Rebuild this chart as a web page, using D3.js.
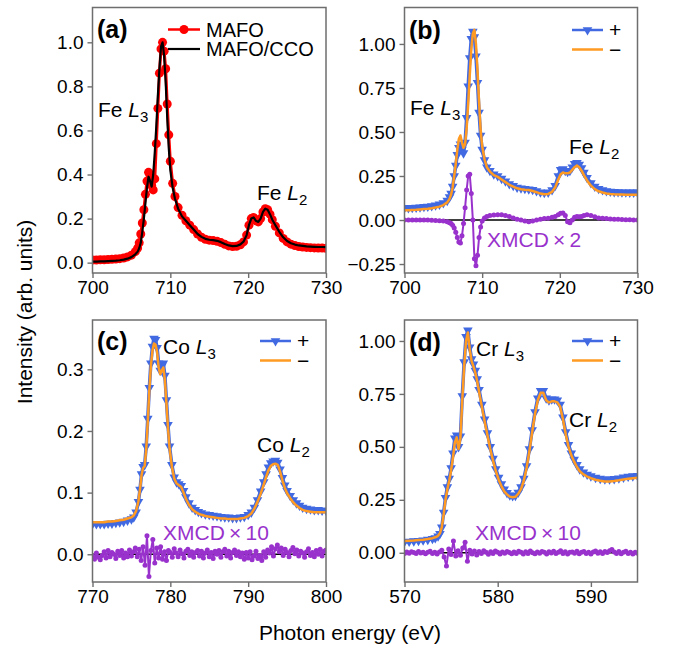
<!DOCTYPE html>
<html>
<head>
<meta charset="utf-8">
<script src="https://cdn.jsdelivr.net/npm/d3@7"></script>
<style>
  body { margin: 0; background: #fff; }
  svg { font-family: "Liberation Sans", Arial, sans-serif; }
</style>
</head>
<body>
<svg id="chart" width="673" height="647"></svg>
<script>
// ---------- data ----------

// Fe L-edge energies, panels (a) and (b)
const feE = [
  700,700.5,701,701.5,702,702.5,703,703.5,704,704.5,
  705,705.5,705.8,706,706.2,706.4,706.6,706.8,707,707.2,
  707.4,707.6,707.8,708,708.2,708.4,708.6,708.8,709,709.2,
  709.4,709.6,709.8,710,710.3,710.6,711,711.5,712,712.5,
  713,713.5,714,714.5,715,715.5,716,716.5,717,717.5,
  718,718.5,719,719.4,719.8,720.1,720.4,720.7,721,721.3,
  721.6,721.9,722.2,722.5,722.8,723.1,723.5,724,724.5,725,
  725.5,726,726.5,727,727.5,728,728.5,729,729.5,730
];
const mafo = [
  0.012,0.012,0.013,0.013,0.014,0.015,0.016,0.018,0.021,0.026,
  0.034,0.05,0.066,0.09,0.13,0.18,0.24,0.31,0.37,0.41,
  0.40,0.35,0.33,0.38,0.54,0.70,0.86,0.97,1.00,0.96,
  0.88,0.72,0.58,0.46,0.36,0.30,0.25,0.215,0.19,0.17,
  0.15,0.13,0.115,0.106,0.102,0.10,0.097,0.091,0.083,0.076,
  0.073,0.074,0.081,0.094,0.125,0.17,0.20,0.205,0.19,0.185,
  0.20,0.23,0.245,0.24,0.22,0.195,0.165,0.135,0.11,0.094,
  0.084,0.078,0.073,0.071,0.069,0.068,0.067,0.066,0.066,0.065
];
const mafoCco = [
  0.005,0.005,0.006,0.006,0.007,0.008,0.009,0.011,0.014,0.018,
  0.025,0.038,0.05,0.065,0.09,0.14,0.20,0.27,0.34,0.39,
  0.37,0.345,0.40,0.50,0.62,0.76,0.88,0.98,1.00,0.94,
  0.82,0.66,0.52,0.42,0.34,0.29,0.245,0.21,0.19,0.17,
  0.15,0.13,0.117,0.108,0.104,0.102,0.099,0.093,0.085,0.078,
  0.075,0.076,0.083,0.095,0.125,0.17,0.20,0.205,0.19,0.185,
  0.20,0.23,0.245,0.24,0.22,0.195,0.17,0.14,0.115,0.098,
  0.088,0.082,0.078,0.076,0.074,0.073,0.072,0.071,0.071,0.070
];
const fePlus = [
  0.068,0.069,0.070,0.071,0.073,0.075,0.077,0.080,0.084,0.089,
  0.097,0.11,0.13,0.15,0.19,0.25,0.31,0.37,0.41,0.43,
  0.40,0.38,0.44,0.58,0.76,0.92,1.03,1.07,1.04,0.93,
  0.78,0.61,0.48,0.40,0.34,0.30,0.28,0.26,0.25,0.235,
  0.22,0.205,0.195,0.185,0.18,0.178,0.175,0.172,0.165,0.158,
  0.155,0.157,0.17,0.195,0.25,0.285,0.29,0.28,0.275,0.28,
  0.30,0.32,0.325,0.315,0.295,0.27,0.24,0.21,0.19,0.178,
  0.17,0.165,0.162,0.16,0.159,0.158,0.158,0.157,0.157,0.157
];
const feMinus = [
  0.055,0.056,0.057,0.058,0.060,0.062,0.064,0.067,0.071,0.076,
  0.085,0.10,0.12,0.145,0.185,0.25,0.32,0.40,0.46,0.48,
  0.44,0.41,0.43,0.52,0.66,0.82,0.97,1.06,1.08,1.00,
  0.85,0.67,0.51,0.42,0.345,0.30,0.275,0.255,0.245,0.23,
  0.215,0.20,0.19,0.18,0.175,0.172,0.17,0.165,0.158,0.150,
  0.146,0.148,0.16,0.185,0.23,0.26,0.27,0.265,0.265,0.27,
  0.285,0.30,0.31,0.30,0.28,0.255,0.225,0.195,0.175,0.163,
  0.156,0.151,0.148,0.146,0.145,0.145,0.144,0.144,0.144,0.144
];
const feXmcd = [
  0,0,0,0,0,0,0,-0.002,-0.003,-0.004,
  -0.006,-0.01,-0.015,-0.02,-0.03,-0.045,-0.07,-0.10,-0.125,-0.13,
  -0.09,-0.02,0.07,0.17,0.25,0.26,0.15,0.0,-0.22,-0.26,
  -0.20,-0.10,-0.04,-0.005,0.012,0.02,0.025,0.028,0.03,0.03,
  0.025,0.02,0.012,0.005,0,-0.005,-0.01,-0.006,0,0.005,
  0.008,0.01,0.015,0.02,0.03,0.038,0.04,0.025,-0.01,-0.015,
  0,0.015,0.02,0.018,0.02,0.025,0.03,0.025,0.018,0.012,
  0.01,0.008,0.006,0.005,0.004,0.003,0.002,0.001,0,0
];

// Co L-edge, panel (c)
const coE = [
  770,770.5,771,771.5,772,772.5,773,773.5,774,774.5,
  775,775.3,775.6,775.9,776.1,776.3,776.5,776.7,776.9,777.1,
  777.3,777.5,777.7,777.9,778.1,778.3,778.5,778.7,778.9,779.1,
  779.3,779.5,779.7,779.9,780.2,780.5,780.8,781.1,781.4,781.7,
  782,782.4,782.8,783.2,783.6,784,784.5,785,785.5,786,
  786.5,787,787.5,788,788.5,789,789.5,790,790.4,790.8,
  791.2,791.6,792,792.3,792.6,792.9,793.2,793.5,793.8,794.1,
  794.4,794.7,795,795.4,795.8,796.2,796.6,797,797.5,798,
  798.5,799,799.5,800
];
const coPlus = [
  0.049,0.049,0.049,0.049,0.050,0.050,0.051,0.052,0.053,0.055,
  0.057,0.060,0.068,0.085,0.105,0.13,0.142,0.145,0.175,0.22,
  0.27,0.31,0.337,0.35,0.348,0.335,0.31,0.298,0.305,0.31,
  0.29,0.25,0.21,0.175,0.145,0.125,0.117,0.114,0.111,0.103,
  0.093,0.083,0.076,0.072,0.069,0.067,0.065,0.064,0.063,0.062,
  0.061,0.060,0.060,0.059,0.059,0.060,0.061,0.064,0.068,0.076,
  0.088,0.102,0.117,0.13,0.141,0.148,0.151,0.152,0.149,0.138,
  0.124,0.112,0.103,0.095,0.088,0.083,0.079,0.076,0.074,0.073,
  0.072,0.072,0.071,0.071
];
const coMinus = [
  0.052,0.052,0.052,0.052,0.053,0.053,0.054,0.055,0.056,0.058,
  0.060,0.063,0.070,0.086,0.105,0.128,0.140,0.143,0.170,0.215,
  0.265,0.305,0.33,0.342,0.34,0.328,0.303,0.292,0.298,0.303,
  0.283,0.245,0.205,0.172,0.142,0.123,0.115,0.112,0.109,0.100,
  0.090,0.080,0.073,0.069,0.066,0.064,0.062,0.061,0.060,0.059,
  0.058,0.058,0.057,0.057,0.057,0.058,0.059,0.062,0.066,0.074,
  0.085,0.098,0.113,0.125,0.136,0.143,0.146,0.147,0.145,0.134,
  0.120,0.108,0.099,0.091,0.084,0.079,0.075,0.072,0.070,0.069,
  0.068,0.068,0.068,0.068
];
// XMCD x10, one row per eV (770 ... 799.75), last value at 800
const coXmcd = [
  -0.003,-0.008,0.002,-0.005,  -0.009,-0.002,0.004,-0.006,  0.006,-0.004,0.003,0.000,
  -0.007,0.005,-0.002,0.006,   -0.006,0.002,-0.004,0.007,   -0.003,0.004,0.010,-0.004,
  0.008,-0.010,0.012,-0.018,   0.030,-0.036,0.006,0.024,    -0.014,0.010,-0.006,0.012,
  -0.008,0.004,-0.010,0.006,   0.003,-0.005,0.009,0.002,    -0.004,0.007,0.001,-0.006,
  0.005,0.008,-0.002,0.004,    -0.005,0.003,0.006,-0.003,   0.005,-0.006,0.002,0.007,
  -0.004,0.003,-0.007,0.005,   0.000,0.006,-0.005,0.004,    0.008,-0.003,0.005,-0.006,
  0.003,0.007,-0.002,0.004,    -0.004,0.002,-0.008,0.003,   -0.006,0.004,-0.009,-0.003,
  0.005,-0.007,-0.002,-0.010,  0.004,-0.005,0.007,0.002,    0.012,-0.003,0.009,0.015,
  0.004,0.010,-0.002,0.008,    0.003,-0.004,0.006,0.011,    0.001,0.007,-0.003,0.005,
  0.002,-0.005,0.004,0.009,    -0.002,0.003,-0.004,0.006,   0.000,0.008,-0.003,0.005,
  0.007
];

// Cr L-edge, panel (d)
const crE = [
  570,570.5,571,571.5,572,572.5,573,573.3,573.6,573.8,
  574,574.2,574.4,574.6,574.8,575,575.2,575.4,575.6,575.8,
  576,576.2,576.4,576.6,576.8,577,577.2,577.4,577.6,577.8,
  578,578.3,578.6,578.9,579.2,579.5,579.8,580.1,580.4,580.7,
  581,581.3,581.6,581.9,582.2,582.5,582.8,583.1,583.4,583.7,
  584,584.3,584.6,584.9,585.2,585.5,585.8,586.1,586.4,586.7,
  587,587.3,587.6,587.9,588.2,588.5,588.8,589.2,589.6,590,
  590.5,591,591.5,592,592.5,593,593.5,594,594.5,595
];
const crPlus = [
  0.052,0.053,0.055,0.057,0.059,0.062,0.066,0.070,0.078,0.090,
  0.12,0.19,0.26,0.31,0.35,0.40,0.47,0.54,0.555,0.50,
  0.55,0.74,0.90,1.02,1.05,0.97,0.915,0.89,0.86,0.82,
  0.77,0.70,0.63,0.565,0.50,0.445,0.395,0.355,0.325,0.30,
  0.283,0.272,0.268,0.27,0.285,0.31,0.35,0.41,0.49,0.58,
  0.665,0.73,0.765,0.765,0.73,0.72,0.725,0.725,0.72,0.70,
  0.64,0.57,0.51,0.47,0.44,0.415,0.395,0.38,0.37,0.362,
  0.355,0.35,0.347,0.347,0.349,0.352,0.356,0.36,0.362,0.364
];
const crMinus = [
  0.056,0.057,0.058,0.060,0.062,0.065,0.069,0.073,0.080,0.092,
  0.12,0.18,0.25,0.30,0.34,0.39,0.45,0.52,0.545,0.49,
  0.54,0.72,0.88,1.00,1.04,0.96,0.905,0.88,0.85,0.81,
  0.76,0.69,0.62,0.555,0.49,0.435,0.385,0.345,0.315,0.29,
  0.275,0.265,0.262,0.264,0.278,0.30,0.34,0.40,0.48,0.57,
  0.655,0.72,0.755,0.755,0.72,0.71,0.715,0.715,0.71,0.69,
  0.63,0.56,0.50,0.46,0.43,0.405,0.385,0.37,0.36,0.352,
  0.345,0.34,0.337,0.337,0.339,0.342,0.346,0.35,0.352,0.354
];
// XMCD x10, one row per eV (570 ... 594.75), last value at 595
const crXmcd = [
  -0.003,0.004,-0.002,0.005,   0.001,-0.004,0.006,-0.001,   0.003,-0.005,0.002,0.007,
  -0.004,0.002,-0.006,0.004,   0.012,-0.020,-0.062,0.018,   -0.008,0.055,-0.015,0.010,
  -0.012,0.022,0.050,-0.040,   0.012,-0.006,0.008,-0.010,   0.006,-0.004,0.010,0.002,
  -0.007,0.005,-0.003,0.008,   0.003,-0.006,0.004,-0.002,   0.006,0.001,-0.005,0.004,
  -0.004,0.007,0.002,-0.006,   0.005,-0.003,0.008,0.000,    -0.005,0.004,-0.002,0.006,
  0.002,-0.006,0.005,-0.001,   0.007,-0.004,0.003,0.009,    -0.003,0.005,-0.006,0.002,
  0.004,-0.002,0.007,-0.005,   0.003,0.006,-0.004,0.002,    -0.006,0.004,0.008,-0.002,
  0.005,-0.003,0.006,0.001,    0.010,0.016,0.004,-0.003,    0.006,-0.005,0.003,0.007,
  -0.004,0.002,-0.006,0.003,
  -0.002
];
const xmcdStep = 0.25;   // scan step of the XMCD traces in (c), (d)

// ---------- layout ----------
const RED = "#ff0000", BLUE = "#4169e1", ORANGE = "#ff9a22", PURPLE = "#9932cc";
const FRAME = "#6e6e6e";

const svg = d3.select("#chart");
const defs = svg.append("defs");

const panels = {
  a: { left: 92.5, right: 326, top: 7.5, bottom: 273, xDom: [700, 730], yDom: [-0.047, 1.158],
       xTicks: [700, 710, 720, 730], yTicks: [0, 0.2, 0.4, 0.6, 0.8, 1.0], yFmt: ".1f" },
  b: { left: 404.5, right: 637.5, top: 7.5, bottom: 273, xDom: [700, 730], yDom: [-0.301, 1.207],
       xTicks: [700, 710, 720, 730], yTicks: [-0.25, 0, 0.25, 0.5, 0.75, 1.0], yFmt: ".2f" },
  c: { left: 92.5, right: 326, top: 320, bottom: 582, xDom: [770, 800], yDom: [-0.045, 0.38],
       xTicks: [770, 780, 790, 800], yTicks: [0, 0.1, 0.2, 0.3], yFmt: ".1f" },
  d: { left: 404.5, right: 637.5, top: 320, bottom: 582, xDom: [570, 595], yDom: [-0.138, 1.099],
       xTicks: [570, 580, 590], yTicks: [0, 0.25, 0.5, 0.75, 1.0], yFmt: ".2f" }
};

Object.entries(panels).forEach(([id, p]) => {
  p.x = d3.scaleLinear().domain(p.xDom).range([p.left, p.right]);
  p.y = d3.scaleLinear().domain(p.yDom).range([p.bottom, p.top]);
  p.g = svg.append("g");

  defs.append("clipPath").attr("id", "clip-" + id)
    .append("rect")
    .attr("x", p.left).attr("y", p.top)
    .attr("width", p.right - p.left).attr("height", p.bottom - p.top);

  const ax = p.g.append("g")
    .attr("transform", `translate(0,${p.bottom})`)
    .call(d3.axisBottom(p.x).tickValues(p.xTicks).tickFormat(d3.format("d"))
      .tickSize(5).tickPadding(3).tickSizeOuter(0));
  const ay = p.g.append("g")
    .attr("transform", `translate(${p.left},0)`)
    .call(d3.axisLeft(p.y).tickValues(p.yTicks).tickFormat(d3.format(p.yFmt))
      .tickSize(5).tickPadding(4).tickSizeOuter(0));
  [ax, ay].forEach(a => {
    a.attr("font-size", 19).attr("font-family", null);
    a.select(".domain").remove();
    a.selectAll(".tick line").attr("stroke", FRAME).attr("stroke-width", 1.4);
    a.selectAll(".tick text").attr("fill", "#000");
  });

  p.plot = p.g.append("g").attr("clip-path", `url(#clip-${id})`);
});

// ---------- helpers ----------
function drawLine(p, xs, ys, color, w) {
  const line = d3.line().x((d, i) => p.x(xs[i])).y(d => p.y(d));
  p.plot.append("path").datum(ys)
    .attr("d", line)
    .attr("fill", "none")
    .attr("stroke", color)
    .attr("stroke-width", w)
    .attr("stroke-linejoin", "round");
}

function drawDots(p, xs, ys, color, r) {
  p.plot.append("g").selectAll("circle")
    .data(ys)
    .enter()
    .append("circle")
    .attr("cx", (d, i) => p.x(xs[i]))
    .attr("cy", d => p.y(d))
    .attr("r", r)
    .attr("fill", color);
}

const tri = d3.symbol().type(d3.symbolTriangle).size(40);
function drawTriangles(p, xs, ys, color) {
  p.plot.append("g").selectAll("path")
    .data(ys)
    .enter()
    .append("path")
    .attr("d", tri)
    .attr("transform", (d, i) => `translate(${p.x(xs[i])},${p.y(d)}) rotate(180)`)
    .attr("fill", color);
}

function zeroLine(p) {
  p.plot.append("line")
    .attr("x1", p.left).attr("x2", p.right)
    .attr("y1", p.y(0)).attr("y2", p.y(0))
    .attr("stroke", "#000").attr("stroke-width", 1.6);
}

function edgeLabel(p, x, y, el, sub) {
  const t = p.g.append("text").attr("x", x).attr("y", y).attr("font-size", 21);
  t.append("tspan").text(el + " ");
  t.append("tspan").attr("font-style", "italic").text("L");
  t.append("tspan").attr("dy", 5).attr("font-size", 15).text(sub);
}

function xmcdLabel(p, x, y, factor) {
  p.g.append("text").attr("x", x).attr("y", y)
    .attr("font-size", 21).attr("fill", PURPLE)
    .text("XMCD\u2009\u00d7\u2009" + factor);
}

function panelLabel(p, txt, x, y) {
  p.g.append("text").attr("x", x).attr("y", y)
    .attr("font-size", 25).attr("font-weight", "bold").text(txt);
}

function pmLegend(p, x0, y0) {
  const g = p.g.append("g");
  g.append("line").attr("x1", x0).attr("x2", x0 + 31).attr("y1", y0).attr("y2", y0)
    .attr("stroke", BLUE).attr("stroke-width", 2.5);
  g.append("path").attr("d", tri)
    .attr("transform", `translate(${x0 + 15.5},${y0}) rotate(180)`).attr("fill", BLUE);
  g.append("text").attr("x", x0 + 37).attr("y", y0 + 7).attr("font-size", 21).text("+");
  g.append("line").attr("x1", x0).attr("x2", x0 + 31).attr("y1", y0 + 19.5).attr("y2", y0 + 19.5)
    .attr("stroke", ORANGE).attr("stroke-width", 2.5);
  g.append("text").attr("x", x0 + 37).attr("y", y0 + 26.5).attr("font-size", 21).text("\u2212");
}

// ---------- (a) ----------
const pa = panels.a;
drawLine(pa, feE, mafo, RED, 3);
drawDots(pa, feE, mafo, RED, 4.5);
drawLine(pa, feE, mafoCco, "#000", 2.2);
panelLabel(pa, "(a)", 97, 38);
edgeLabel(pa, 98, 117, "Fe", "3");
edgeLabel(pa, 257, 200, "Fe", "2");
pa.g.append("line").attr("x1", 168).attr("x2", 200).attr("y1", 29.5).attr("y2", 29.5)
  .attr("stroke", RED).attr("stroke-width", 2.5);
pa.g.append("circle").attr("cx", 184).attr("cy", 29.5).attr("r", 4.5).attr("fill", RED);
pa.g.append("text").attr("x", 206).attr("y", 36.5).attr("font-size", 20).text("MAFO");
pa.g.append("line").attr("x1", 168).attr("x2", 200).attr("y1", 49).attr("y2", 49)
  .attr("stroke", "#000").attr("stroke-width", 2.2);
pa.g.append("text").attr("x", 206).attr("y", 56).attr("font-size", 20).text("MAFO/CCO");

// ---------- (b) ----------
const pb = panels.b;
zeroLine(pb);
drawLine(pb, feE, fePlus, BLUE, 3.5);
drawTriangles(pb, feE, fePlus, BLUE);
drawLine(pb, feE, feMinus, ORANGE, 2.5);
drawLine(pb, feE, feXmcd, PURPLE, 2);
drawDots(pb, feE, feXmcd, PURPLE, 2.5);
panelLabel(pb, "(b)", 409, 39);
edgeLabel(pb, 410, 115, "Fe", "3");
edgeLabel(pb, 569, 154, "Fe", "2");
xmcdLabel(pb, 487, 247, "2");
pmLegend(pb, 572, 30);

// ---------- (c) ----------
const pc = panels.c;
const coXE = coXmcd.map((d, i) => pc.xDom[0] + i * xmcdStep);
zeroLine(pc);
drawLine(pc, coE, coPlus, BLUE, 3.5);
drawTriangles(pc, coE, coPlus, BLUE);
drawLine(pc, coE, coMinus, ORANGE, 2.5);
drawLine(pc, coXE, coXmcd, PURPLE, 2);
drawDots(pc, coXE, coXmcd, PURPLE, 2.5);
panelLabel(pc, "(c)", 97, 350);
edgeLabel(pc, 163, 354, "Co", "3");
edgeLabel(pc, 257, 452, "Co", "2");
xmcdLabel(pc, 163, 540, "10");
pmLegend(pc, 260, 341);

// ---------- (d) ----------
const pd = panels.d;
const crXE = crXmcd.map((d, i) => pd.xDom[0] + i * xmcdStep);
zeroLine(pd);
drawLine(pd, crE, crPlus, BLUE, 3.5);
drawTriangles(pd, crE, crPlus, BLUE);
drawLine(pd, crE, crMinus, ORANGE, 2.5);
drawLine(pd, crXE, crXmcd, PURPLE, 2);
drawDots(pd, crXE, crXmcd, PURPLE, 2.5);
panelLabel(pd, "(d)", 409, 351);
edgeLabel(pd, 476, 356, "Cr", "3");
edgeLabel(pd, 569, 427, "Cr", "2");
xmcdLabel(pd, 475, 540, "10");
pmLegend(pd, 572, 341);

// frames on top
Object.values(panels).forEach(p => {
  p.g.append("rect")
    .attr("x", p.left).attr("y", p.top)
    .attr("width", p.right - p.left).attr("height", p.bottom - p.top)
    .attr("fill", "none").attr("stroke", FRAME).attr("stroke-width", 1.5);
});

// axis titles
svg.append("text")
  .attr("transform", "translate(31.5,312) rotate(-90)")
  .attr("text-anchor", "middle").attr("font-size", 21)
  .text("Intensity (arb. units)");
svg.append("text")
  .attr("x", 350).attr("y", 640)
  .attr("text-anchor", "middle").attr("font-size", 21)
  .text("Photon energy (eV)");
</script>
</body>
</html>
